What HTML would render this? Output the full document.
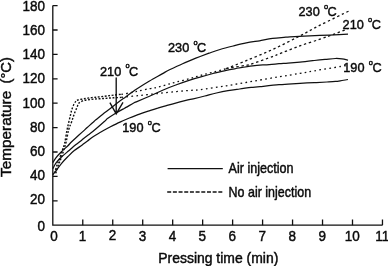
<!DOCTYPE html><html><head><meta charset="utf-8"><title>Chart</title><style>html,body{margin:0;padding:0;background:#fff}svg{display:block}text{font-family:"Liberation Sans",Arial,sans-serif;fill:#0a0a0a;stroke:#0a0a0a;stroke-width:0.45px}</style></head><body>
<svg width="388" height="266" viewBox="0 0 388 266">
<rect width="388" height="266" fill="#fff"/>
<g stroke="#111" stroke-width="1.3" fill="none">
<path d="M52.8,5.60 V225.2 H382.47"/>
<path d="M52.8,200.80h4.8M52.8,176.40h4.8M52.8,152.00h4.8M52.8,127.60h4.8M52.8,103.20h4.8M52.8,78.80h4.8M52.8,54.40h4.8M52.8,30.00h4.8M52.8,5.60h4.8M82.77,225.2v-5.6M112.74,225.2v-5.6M142.71,225.2v-5.6M172.68,225.2v-5.6M202.65,225.2v-5.6M232.62,225.2v-5.6M262.59,225.2v-5.6M292.56,225.2v-5.6M322.53,225.2v-5.6M352.50,225.2v-5.6M382.47,225.2v-5.6"/>
</g>
<g stroke="#111" stroke-width="1.25" fill="none" stroke-linejoin="round">
<path d="M52.8,162.6C53.3,161.8 54.5,159.6 55.9,157.8C57.3,156.0 59.2,154.0 61.2,152.0C63.2,150.0 66.1,147.5 67.7,146.0C69.3,144.5 69.2,144.2 70.6,142.8C72.0,141.4 74.1,139.4 76.0,137.7C77.9,136.0 80.0,134.1 81.9,132.4C83.8,130.7 85.6,129.0 87.5,127.3C89.4,125.6 91.7,123.5 93.1,122.3C94.5,121.0 94.3,121.1 95.9,119.8C97.5,118.5 100.2,116.2 102.5,114.4C104.8,112.6 107.5,110.7 110.0,108.8C112.5,106.9 115.1,104.7 117.6,102.8C120.1,100.9 122.5,99.2 125.0,97.4C127.5,95.6 130.7,93.2 132.6,91.8C134.5,90.4 133.5,91.0 136.3,89.2C139.1,87.4 145.1,83.6 149.5,81.0C153.9,78.4 159.3,75.5 162.6,73.6C165.9,71.7 166.2,71.4 169.5,69.8C172.8,68.2 178.2,65.6 182.6,63.7C187.0,61.8 191.4,60.0 195.8,58.2C200.2,56.5 205.0,54.7 209.0,53.2C213.0,51.8 216.0,50.7 220.0,49.5C224.0,48.3 228.8,47.1 233.2,46.0C237.6,44.9 241.9,43.8 246.3,42.9C250.7,42.0 255.1,41.5 259.5,40.8C263.9,40.0 268.2,39.0 272.6,38.4C277.0,37.8 281.4,37.6 285.8,37.2C290.2,36.9 293.3,36.6 299.0,36.3C304.7,36.0 314.2,35.6 320.0,35.4C325.8,35.2 329.3,35.1 334.0,34.9C338.7,34.7 345.7,34.3 348.0,34.2"/>
<path d="M52.8,168.8C53.3,167.9 54.5,165.1 55.9,163.2C57.3,161.3 59.2,159.2 61.2,157.3C63.2,155.4 65.7,153.3 67.7,151.6C69.7,149.9 71.6,148.2 73.0,147.0C74.4,145.8 74.5,145.7 76.0,144.5C77.5,143.3 80.0,141.4 81.9,139.9C83.8,138.4 85.6,136.9 87.5,135.5C89.4,134.1 90.3,133.6 93.1,131.3C95.9,129.0 102.0,123.6 104.4,121.5C106.8,119.4 105.6,120.0 107.5,118.6C109.4,117.2 113.4,114.6 116.0,113.0C118.6,111.4 121.3,110.0 123.0,109.1C124.7,108.2 124.2,108.4 126.0,107.4C127.8,106.4 132.0,103.9 133.7,103.0C135.4,102.1 133.7,102.9 136.3,101.8C138.9,100.7 145.1,98.1 149.5,96.2C153.9,94.3 158.2,92.1 162.6,90.2C167.0,88.3 171.4,86.6 175.8,85.0C180.2,83.4 185.0,81.7 189.0,80.4C193.0,79.1 196.0,78.2 200.0,77.1C204.0,75.9 208.6,74.6 213.0,73.5C217.4,72.4 222.0,71.2 226.3,70.3C230.6,69.4 234.6,68.8 239.0,68.0C243.4,67.2 248.3,66.3 252.6,65.8C256.9,65.3 260.6,65.1 265.0,64.8C269.4,64.5 275.2,64.0 279.0,63.7C282.8,63.4 284.5,63.4 288.0,63.1C291.5,62.8 295.6,62.5 300.0,62.1C304.4,61.7 310.1,61.0 314.3,60.5C318.5,60.0 321.5,59.7 325.0,59.4C328.5,59.1 332.6,58.6 335.4,58.5C338.2,58.4 339.9,58.6 342.0,58.9C344.1,59.2 347.0,59.9 348.0,60.1"/>
<path d="M52.8,174.8C53.3,174.1 54.5,172.6 55.9,170.8C57.3,169.0 59.2,166.1 61.2,163.8C63.2,161.5 65.5,159.0 67.7,156.8C69.9,154.6 71.9,152.5 74.3,150.6C76.7,148.7 79.7,146.8 81.9,145.2C84.1,143.6 85.6,142.4 87.5,141.0C89.4,139.6 90.3,138.5 93.1,136.7C95.9,134.9 101.6,131.6 104.4,130.0C107.2,128.4 107.4,128.3 110.0,127.0C112.6,125.7 116.8,123.6 120.0,122.1C123.2,120.6 126.3,119.3 129.4,118.0C132.5,116.7 135.7,115.5 138.8,114.3C141.9,113.1 145.0,112.1 148.2,111.1C151.3,110.1 154.5,109.0 157.7,108.1C160.8,107.1 164.0,106.3 167.1,105.4C170.2,104.5 173.4,103.6 176.5,102.8C179.6,102.0 183.1,101.1 185.9,100.4C188.7,99.7 190.0,99.5 193.2,98.8C196.3,98.1 200.9,97.0 204.8,96.0C208.7,95.0 212.5,93.9 216.4,93.0C220.3,92.1 224.1,91.3 228.0,90.6C231.9,89.9 235.7,89.5 239.6,89.0C243.5,88.5 247.8,87.8 251.2,87.4C254.6,87.0 255.4,87.2 260.0,86.7C264.6,86.2 274.3,85.1 279.0,84.7C283.7,84.3 284.5,84.4 288.0,84.2C291.5,84.0 295.6,83.7 300.0,83.4C304.4,83.1 309.8,82.8 314.3,82.6C318.8,82.4 323.5,82.2 327.0,82.0C330.5,81.8 332.9,81.7 335.4,81.4C337.9,81.2 339.9,80.8 342.0,80.5C344.1,80.2 347.0,79.7 348.0,79.5"/>
</g>
<g stroke="#111" stroke-width="1.4" fill="none" stroke-dasharray="1.9 1.6" stroke-linejoin="round">
<path d="M54.6,173.3C55.0,171.9 56.2,167.3 57.0,165.0C57.8,162.7 58.5,161.8 59.3,159.5C60.1,157.2 61.1,153.7 62.0,151.0C62.9,148.3 63.8,146.9 64.6,143.5C65.4,140.1 66.2,134.0 66.9,130.6C67.6,127.2 68.0,125.5 68.6,122.9C69.2,120.3 70.0,117.2 70.5,115.0C71.0,112.8 71.2,111.5 71.8,109.7C72.3,108.0 73.1,105.9 73.8,104.5C74.5,103.1 75.1,102.2 75.8,101.4C76.5,100.7 76.6,100.4 77.8,100.0C79.0,99.6 81.0,99.3 82.7,99.0C84.4,98.7 86.0,98.4 87.9,98.1C89.8,97.8 92.2,97.6 94.3,97.4C96.4,97.2 98.6,97.0 100.8,96.7C103.0,96.5 105.0,96.2 107.2,95.9C109.4,95.6 111.3,95.4 113.7,95.1C116.1,94.8 120.1,94.4 121.4,94.3"/>
<path d="M55.8,173.3C56.2,172.0 57.4,167.8 58.2,165.5C59.0,163.2 59.8,161.8 60.6,159.5C61.5,157.2 62.4,154.3 63.3,151.5C64.2,148.7 65.1,146.1 66.0,142.5C66.9,138.9 67.7,133.3 68.6,130.0C69.5,126.7 70.4,125.1 71.2,122.9C72.0,120.7 72.6,118.9 73.2,117.0C73.8,115.1 74.4,113.4 75.1,111.7C75.8,110.0 76.5,108.5 77.1,107.1C77.7,105.7 77.7,104.4 78.6,103.4C79.5,102.4 81.2,101.5 82.7,100.9C84.2,100.3 86.0,100.1 87.9,99.8C89.8,99.5 92.2,99.3 94.3,99.1C96.4,98.9 98.6,98.8 100.8,98.7C103.0,98.6 105.0,98.4 107.2,98.2C109.4,98.0 111.3,97.9 113.7,97.8C116.1,97.7 120.1,97.5 121.4,97.4"/>
</g>
<g stroke="#111" stroke-width="1.3" fill="none" stroke-linejoin="round">
<path d="M121.4,94.3C123.5,94.0 130.8,92.8 133.7,92.2C136.6,91.6 136.2,91.5 138.8,90.9C141.4,90.3 146.3,89.3 149.5,88.7C152.7,88.1 154.8,87.9 157.7,87.2C160.6,86.5 164.0,85.5 167.1,84.6C170.2,83.7 172.8,83.0 176.5,82.0C180.2,81.0 185.1,79.9 189.0,78.8C192.9,77.7 196.0,76.7 200.0,75.6C204.0,74.5 208.6,73.4 213.0,72.2C217.4,71.0 224.1,69.2 226.3,68.6" stroke-dasharray="1.7 3.1"/>
<path d="M226.3,68.6C229.6,67.3 238.6,63.8 246.3,60.6C254.0,57.4 263.8,53.5 272.6,49.5C281.4,45.5 291.1,40.4 299.0,36.4C306.9,32.4 311.5,29.5 320.0,25.2C328.5,20.9 344.8,13.0 349.8,10.6" stroke-dasharray="2.4 2.7"/>
<path d="M226.3,68.6C227.0,68.5 227.2,68.3 230.5,67.8C233.8,67.2 242.6,66.0 246.3,65.3C250.0,64.6 248.2,65.0 252.6,63.6C257.0,62.2 268.2,58.2 272.6,56.6C277.0,55.0 274.6,55.7 279.0,54.0C283.4,52.3 292.2,48.7 299.0,46.2C305.8,43.7 314.0,41.3 320.0,39.2C326.0,37.1 330.4,35.5 335.0,33.8C339.6,32.1 345.4,29.8 347.5,29.0" stroke-dasharray="2.4 2.7"/>
<path d="M121.4,97.4C124.3,97.1 132.8,96.2 138.8,95.6C144.9,94.9 151.4,94.2 157.7,93.5C164.0,92.8 171.1,92.1 176.5,91.6C181.9,91.1 186.1,90.7 190.0,90.4C193.9,90.1 193.9,90.5 200.0,89.7C206.1,88.9 217.5,87.2 226.3,85.8C235.1,84.4 243.8,82.8 252.6,81.3C261.4,79.8 271.1,78.1 279.0,76.8C286.9,75.5 294.1,74.4 300.0,73.4C305.9,72.4 307.5,72.0 314.3,70.8C321.1,69.6 335.3,67.4 340.6,66.5C345.9,65.6 345.1,65.8 346.0,65.6" stroke-dasharray="1.7 3.3"/>
</g>
<g stroke="#111" stroke-width="1.35" fill="none"><path d="M116.2,77.5V113M109.9,102.6L116.2,113.8L123,102.4"/></g>
<g stroke="#111" stroke-width="1.1" fill="none"><path d="M167.6,168.6H222.8" stroke-width="1.4"/><path d="M167.2,192H222.4" stroke-width="1.5" stroke-dasharray="4 1.68"/></g>
<text transform="translate(44.9,231.0) scale(0.9,1)" font-size="15" text-anchor="end">0</text>
<text transform="translate(44.9,204.4) scale(0.9,1)" font-size="15" text-anchor="end">20</text>
<text transform="translate(44.9,180.3) scale(0.9,1)" font-size="15" text-anchor="end">40</text>
<text transform="translate(44.9,156.1) scale(0.9,1)" font-size="15" text-anchor="end">60</text>
<text transform="translate(44.9,132.0) scale(0.9,1)" font-size="15" text-anchor="end">80</text>
<text transform="translate(44.9,107.7) scale(0.9,1)" font-size="15" text-anchor="end">100</text>
<text transform="translate(44.9,83.0) scale(0.9,1)" font-size="15" text-anchor="end">120</text>
<text transform="translate(44.9,59.1) scale(0.9,1)" font-size="15" text-anchor="end">140</text>
<text transform="translate(44.9,34.5) scale(0.9,1)" font-size="15" text-anchor="end">160</text>
<text transform="translate(44.9,10.7) scale(0.9,1)" font-size="15" text-anchor="end">180</text>
<text transform="translate(54.0,240.9) scale(0.9,1)" font-size="15" text-anchor="middle">0</text>
<text transform="translate(82.5,240.9) scale(0.9,1)" font-size="15" text-anchor="middle">1</text>
<text transform="translate(112.4,240.1) scale(0.9,1)" font-size="15" text-anchor="middle">2</text>
<text transform="translate(142.4,240.9) scale(0.9,1)" font-size="15" text-anchor="middle">3</text>
<text transform="translate(172.4,240.9) scale(0.9,1)" font-size="15" text-anchor="middle">4</text>
<text transform="translate(202.3,240.9) scale(0.9,1)" font-size="15" text-anchor="middle">5</text>
<text transform="translate(232.3,240.9) scale(0.9,1)" font-size="15" text-anchor="middle">6</text>
<text transform="translate(262.3,240.9) scale(0.9,1)" font-size="15" text-anchor="middle">7</text>
<text transform="translate(292.3,240.9) scale(0.9,1)" font-size="15" text-anchor="middle">8</text>
<text transform="translate(322.2,240.9) scale(0.9,1)" font-size="15" text-anchor="middle">9</text>
<text transform="translate(352.2,240.9) scale(0.9,1)" font-size="15" text-anchor="middle">10</text>
<text transform="translate(382.2,240.9) scale(0.9,1)" font-size="15" text-anchor="middle">11</text>
<text x="228.6" y="172.8" font-size="14.3" textLength="65" lengthAdjust="spacingAndGlyphs">Air injection</text>
<text x="228.6" y="196.6" font-size="14.3" textLength="82.5" lengthAdjust="spacingAndGlyphs">No air injection</text>
<text x="158.3" y="262.8" font-size="14.6" textLength="120" lengthAdjust="spacingAndGlyphs">Pressing time (min)</text>
<text transform="translate(11.4,177) rotate(-90)" font-size="14.6" textLength="86.2" lengthAdjust="spacingAndGlyphs">Temperature</text>
<text transform="translate(11.4,83.5) rotate(-90)" font-size="14.6" textLength="26.5" lengthAdjust="spacingAndGlyphs">(°C)</text>
<text x="298.5" y="16" font-size="13.7" textLength="21.2" lengthAdjust="spacingAndGlyphs">230</text><text x="324.0" y="8.8" font-size="7.4">o</text><text x="327.6" y="16" font-size="13.7" textLength="9.2" lengthAdjust="spacingAndGlyphs">C</text>
<text x="342.6" y="29.2" font-size="13.7" textLength="21.2" lengthAdjust="spacingAndGlyphs">210</text><text x="368.1" y="22.0" font-size="7.4">o</text><text x="371.7" y="29.2" font-size="13.7" textLength="9.2" lengthAdjust="spacingAndGlyphs">C</text>
<text x="343.3" y="71.8" font-size="13.7" textLength="21.2" lengthAdjust="spacingAndGlyphs">190</text><text x="368.8" y="64.6" font-size="7.4">o</text><text x="372.4" y="71.8" font-size="13.7" textLength="9.2" lengthAdjust="spacingAndGlyphs">C</text>
<text x="168" y="52" font-size="13.7" textLength="21.2" lengthAdjust="spacingAndGlyphs">230</text><text x="193.5" y="44.8" font-size="7.4">o</text><text x="197.1" y="52" font-size="13.7" textLength="9.2" lengthAdjust="spacingAndGlyphs">C</text>
<text x="100" y="75.5" font-size="13.7" textLength="21.2" lengthAdjust="spacingAndGlyphs">210</text><text x="125.5" y="68.3" font-size="7.4">o</text><text x="129.1" y="75.5" font-size="13.7" textLength="9.2" lengthAdjust="spacingAndGlyphs">C</text>
<text x="122.3" y="131.9" font-size="13.7" textLength="21.2" lengthAdjust="spacingAndGlyphs">190</text><text x="147.8" y="124.7" font-size="7.4">o</text><text x="151.4" y="131.9" font-size="13.7" textLength="9.2" lengthAdjust="spacingAndGlyphs">C</text>
</svg></body></html>
